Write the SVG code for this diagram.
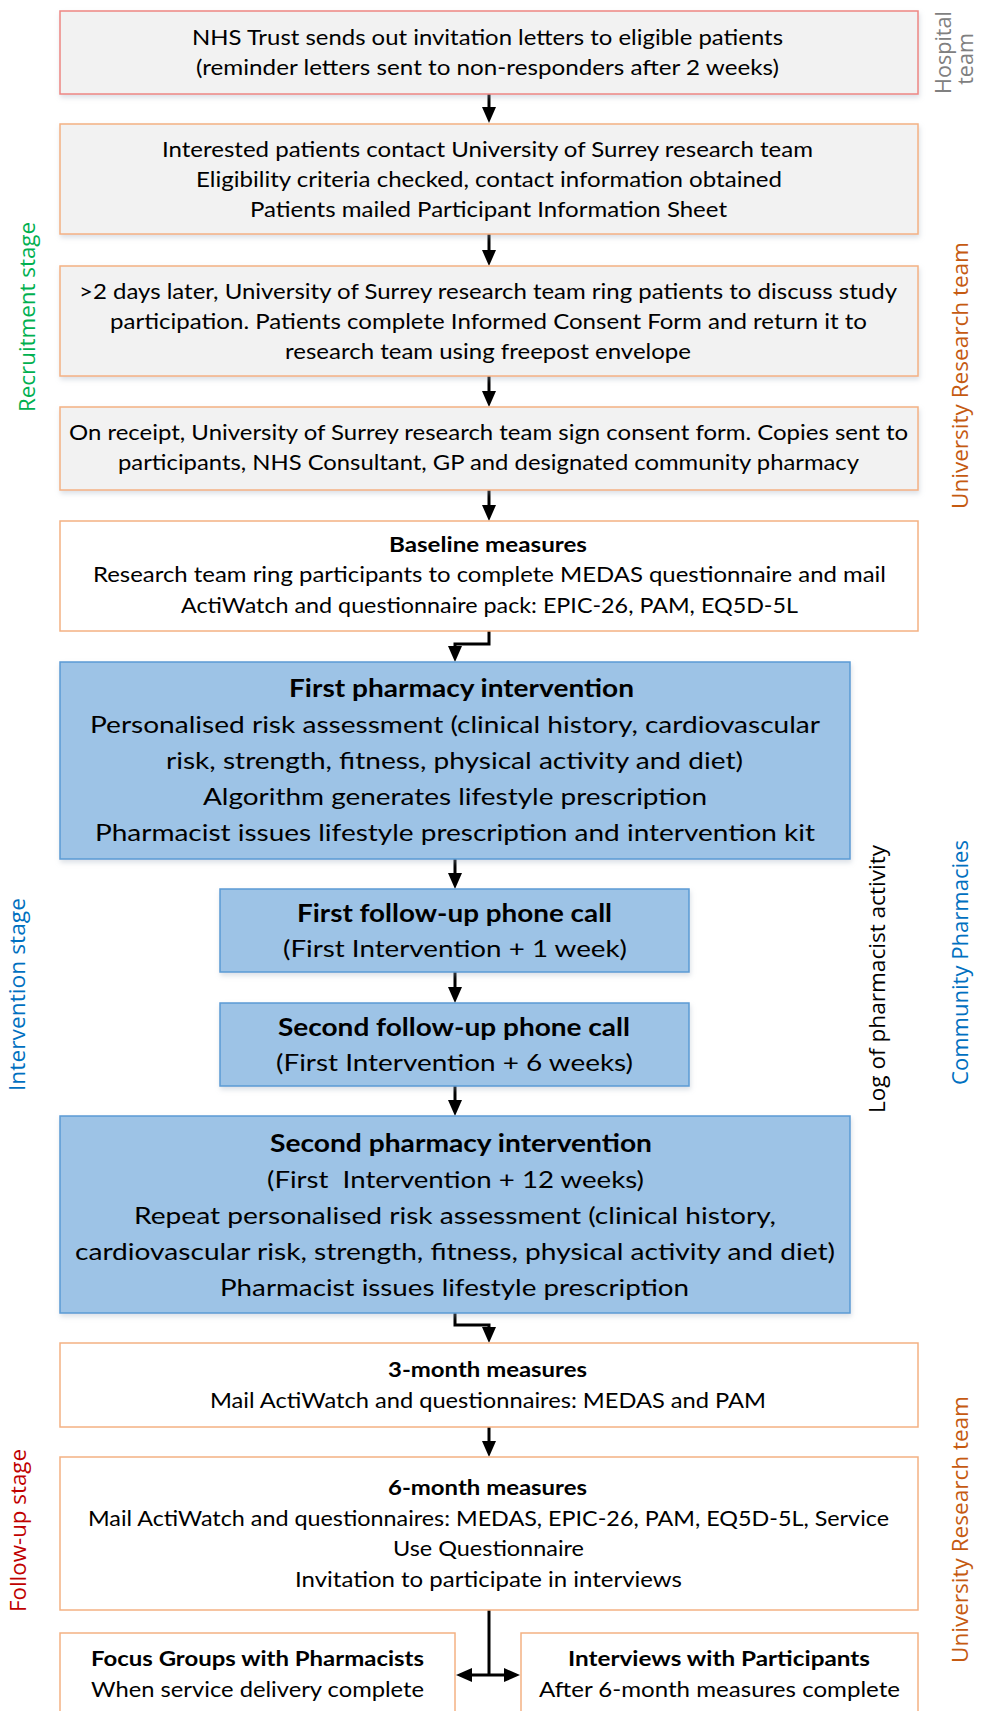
<svg xmlns="http://www.w3.org/2000/svg" width="985" height="1711" viewBox="0 0 985 1711">
<defs>
<style>
.bg{fill:#ffffff}
.grey{fill:#f2f2f2;stroke:#f4b183;stroke-width:1.5}
.red{fill:#f2f2f2;stroke:#ee8683;stroke-width:1.5}
.white{fill:#ffffff;stroke:#f4b183;stroke-width:1.5}
.blue{fill:#9dc3e6;stroke:#5b9bd5;stroke-width:1.5}
.t{font-family:Lato,"Liberation Sans",sans-serif;fill:#000}
.s19{font-size:20.5px}
.s20{font-size:21.5px}
.s22{font-size:24px}
.b{font-weight:bold}
.side{font-family:"Open Sans","DejaVu Sans",sans-serif;font-size:21.5px}
.conn{fill:none;stroke:#000;stroke-width:3}
</style>
<filter id="sh" x="-5%" y="-10%" width="110%" height="130%">
<feDropShadow dx="1" dy="3" stdDeviation="2.5" flood-color="#9aa8b8" flood-opacity="0.35"/>
</filter>
<marker id="ah" viewBox="0 0 16 14" refX="1" refY="7" markerWidth="16" markerHeight="14" markerUnits="userSpaceOnUse" orient="auto-start-reverse">
<path d="M0,0 L16,7 L0,14 z" fill="#000"/>
</marker>
</defs>
<rect class="bg" x="0" y="0" width="985" height="1711"/>

<g id="connectors">
<path class="conn" d="M489,94 V108" marker-end="url(#ah)"/>
<path class="conn" d="M489,234 V251" marker-end="url(#ah)"/>
<path class="conn" d="M489,376 V392" marker-end="url(#ah)"/>
<path class="conn" d="M489,490 V506" marker-end="url(#ah)"/>
<path class="conn" d="M489,631 V644 H455 V647" marker-end="url(#ah)"/>
<path class="conn" d="M455,859 V874" marker-end="url(#ah)"/>
<path class="conn" d="M455,972 V988" marker-end="url(#ah)"/>
<path class="conn" d="M455,1086 V1101" marker-end="url(#ah)"/>
<path class="conn" d="M455,1313 V1325 H489 V1328" marker-end="url(#ah)"/>
<path class="conn" d="M489,1427 V1442" marker-end="url(#ah)"/>
<path class="conn" d="M489,1610 V1675"/>
<path class="conn" d="M471,1675 H505" marker-start="url(#ah)" marker-end="url(#ah)"/>
</g>

<g id="n1">
<rect class="red" x="60" y="11" width="858" height="83" filter="url(#sh)"/>
<text class="t s19" x="192" y="45" textLength="591" lengthAdjust="spacingAndGlyphs">NHS Trust sends out invitation letters to eligible patients</text>
<text class="t s19" x="196" y="75" textLength="583" lengthAdjust="spacingAndGlyphs">(reminder letters sent to non-responders after 2 weeks)</text>
</g>

<g id="n2">
<rect class="grey" x="60" y="124" width="858" height="110" filter="url(#sh)"/>
<text class="t s19" x="162" y="157" textLength="651" lengthAdjust="spacingAndGlyphs">Interested patients contact University of Surrey research team</text>
<text class="t s19" x="196" y="187" textLength="586" lengthAdjust="spacingAndGlyphs">Eligibility criteria checked, contact information obtained</text>
<text class="t s19" x="250" y="217" textLength="477" lengthAdjust="spacingAndGlyphs">Patients mailed Participant Information Sheet</text>
</g>

<g id="n3">
<rect class="grey" x="60" y="266" width="858" height="110" filter="url(#sh)"/>
<text class="t s19" x="79" y="299" textLength="818" lengthAdjust="spacingAndGlyphs">&gt;2 days later, University of Surrey research team ring patients to discuss study</text>
<text class="t s19" x="110" y="329" textLength="757" lengthAdjust="spacingAndGlyphs">participation. Patients complete Informed Consent Form and return it to</text>
<text class="t s19" x="285" y="359" textLength="406" lengthAdjust="spacingAndGlyphs">research team using freepost envelope</text>
</g>

<g id="n4">
<rect class="grey" x="60" y="407" width="858" height="83" filter="url(#sh)"/>
<text class="t s19" x="69" y="440" textLength="839" lengthAdjust="spacingAndGlyphs">On receipt, University of Surrey research team sign consent form. Copies sent to</text>
<text class="t s19" x="118" y="470" textLength="741" lengthAdjust="spacingAndGlyphs">participants, NHS Consultant, GP and designated community pharmacy</text>
</g>

<g id="n5">
<rect class="white" x="60" y="521" width="858" height="110"/>
<text class="t s19 b" x="389" y="552" textLength="198" lengthAdjust="spacingAndGlyphs">Baseline measures</text>
<text class="t s20" x="93" y="582" textLength="793" lengthAdjust="spacingAndGlyphs">Research team ring participants to complete MEDAS questionnaire and mail</text>
<text class="t s20" x="181" y="613" textLength="617" lengthAdjust="spacingAndGlyphs">ActiWatch and questionnaire pack: EPIC-26, PAM, EQ5D-5L</text>
</g>

<g id="n6">
<rect class="blue" x="60" y="662" width="790" height="197" filter="url(#sh)"/>
<text class="t s22 b" x="289" y="697" textLength="345" lengthAdjust="spacingAndGlyphs">First pharmacy intervention</text>
<text class="t s22" x="90" y="733" textLength="730" lengthAdjust="spacingAndGlyphs">Personalised risk assessment (clinical history, cardiovascular</text>
<text class="t s22" x="166" y="769" textLength="577" lengthAdjust="spacingAndGlyphs">risk, strength, fitness, physical activity and diet)</text>
<text class="t s22" x="203" y="805" textLength="504" lengthAdjust="spacingAndGlyphs">Algorithm generates lifestyle prescription</text>
<text class="t s22" x="95" y="841" textLength="720" lengthAdjust="spacingAndGlyphs">Pharmacist issues lifestyle prescription and intervention kit</text>
</g>

<g id="n7">
<rect class="blue" x="220" y="889" width="469" height="83" filter="url(#sh)"/>
<text class="t s22 b" x="297" y="922" textLength="315" lengthAdjust="spacingAndGlyphs">First follow-up phone call</text>
<text class="t s22" x="283" y="957" textLength="344" lengthAdjust="spacingAndGlyphs">(First Intervention + 1 week)</text>
</g>

<g id="n8">
<rect class="blue" x="220" y="1003" width="469" height="83" filter="url(#sh)"/>
<text class="t s22 b" x="278" y="1036" textLength="352" lengthAdjust="spacingAndGlyphs">Second follow-up phone call</text>
<text class="t s22" x="276" y="1071" textLength="357" lengthAdjust="spacingAndGlyphs">(First Intervention + 6 weeks)</text>
</g>

<g id="n9">
<rect class="blue" x="60" y="1116" width="790" height="197" filter="url(#sh)"/>
<text class="t s22 b" x="270" y="1152" textLength="382" lengthAdjust="spacingAndGlyphs">Second pharmacy intervention</text>
<text class="t s22" x="267" y="1188" textLength="377" lengthAdjust="spacingAndGlyphs" xml:space="preserve">(First  Intervention + 12 weeks)</text>
<text class="t s22" x="134" y="1224" textLength="642" lengthAdjust="spacingAndGlyphs">Repeat personalised risk assessment (clinical history,</text>
<text class="t s22" x="75" y="1260" textLength="760" lengthAdjust="spacingAndGlyphs">cardiovascular risk, strength, fitness, physical activity and diet)</text>
<text class="t s22" x="220" y="1296" textLength="469" lengthAdjust="spacingAndGlyphs">Pharmacist issues lifestyle prescription</text>
</g>

<g id="n10">
<rect class="white" x="60" y="1343" width="858" height="84"/>
<text class="t s20 b" x="388" y="1377" textLength="199" lengthAdjust="spacingAndGlyphs">3-month measures</text>
<text class="t s20" x="210" y="1408" textLength="556" lengthAdjust="spacingAndGlyphs">Mail ActiWatch and questionnaires: MEDAS and PAM</text>
</g>

<g id="n11">
<rect class="white" x="60" y="1457" width="858" height="153"/>
<text class="t s20 b" x="388" y="1495" textLength="199" lengthAdjust="spacingAndGlyphs">6-month measures</text>
<text class="t s20" x="88" y="1526" textLength="801" lengthAdjust="spacingAndGlyphs">Mail ActiWatch and questionnaires: MEDAS, EPIC-26, PAM, EQ5D-5L, Service</text>
<text class="t s20" x="393" y="1556" textLength="191" lengthAdjust="spacingAndGlyphs">Use Questionnaire</text>
<text class="t s20" x="295" y="1587" textLength="387" lengthAdjust="spacingAndGlyphs">Invitation to participate in interviews</text>
</g>

<g id="n12">
<rect class="white" x="60" y="1633" width="395" height="95"/>
<text class="t s20 b" x="91" y="1666" textLength="333" lengthAdjust="spacingAndGlyphs">Focus Groups with Pharmacists</text>
<text class="t s20" x="91" y="1697" textLength="333" lengthAdjust="spacingAndGlyphs">When service delivery complete</text>
</g>

<g id="n13">
<rect class="white" x="521" y="1633" width="397" height="95"/>
<text class="t s20 b" x="568" y="1666" textLength="302" lengthAdjust="spacingAndGlyphs">Interviews with Participants</text>
<text class="t s20" x="539" y="1697" textLength="361" lengthAdjust="spacingAndGlyphs">After 6-month measures complete</text>
</g>

<g id="side-labels">
<text class="side" fill="#808080" transform="translate(951,94) rotate(-90)" textLength="83" lengthAdjust="spacingAndGlyphs">Hospital</text>
<text class="side" fill="#808080" transform="translate(973,59) rotate(-90)" text-anchor="middle">team</text>
<text class="side" fill="#00b050" transform="translate(35,412) rotate(-90)" textLength="190" lengthAdjust="spacingAndGlyphs">Recruitment stage</text>
<text class="side" fill="#c55a11" transform="translate(968,509) rotate(-90)" textLength="267" lengthAdjust="spacingAndGlyphs">University Research team</text>
<text class="side" fill="#0070c0" transform="translate(25,1091) rotate(-90)" textLength="193" lengthAdjust="spacingAndGlyphs">Intervention stage</text>
<text class="side" fill="#000000" transform="translate(885,1113) rotate(-90)" textLength="268" lengthAdjust="spacingAndGlyphs">Log of pharmacist activity</text>
<text class="side" fill="#0070c0" transform="translate(968,1085) rotate(-90)" textLength="245" lengthAdjust="spacingAndGlyphs">Community Pharmacies</text>
<text class="side" fill="#c00000" transform="translate(26,1612) rotate(-90)" textLength="163" lengthAdjust="spacingAndGlyphs">Follow-up stage</text>
<text class="side" fill="#c55a11" transform="translate(968,1663) rotate(-90)" textLength="267" lengthAdjust="spacingAndGlyphs">University Research team</text>
</g>
</svg>
